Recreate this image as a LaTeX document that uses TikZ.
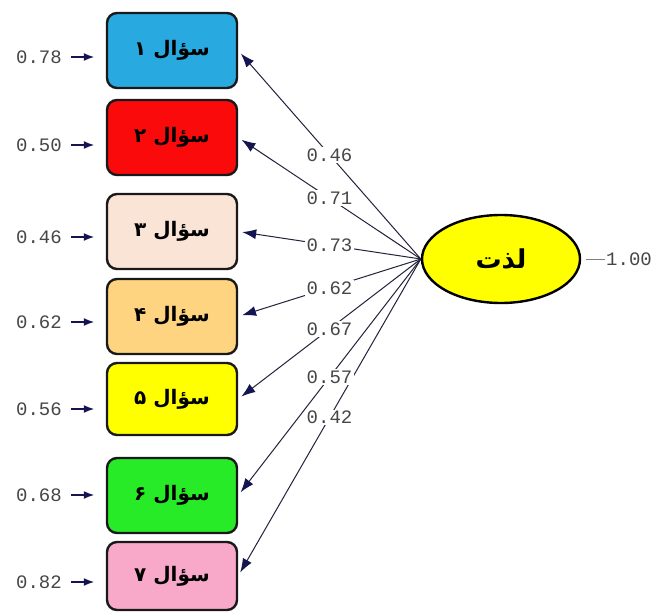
\documentclass[tikz,border=0pt]{standalone}
\usepackage{fontspec}
\usetikzlibrary{arrows.meta,shapes.geometric}
\TeXXeTstate=1
\newfontfamily\arabicfont[Script=Arabic]{DejaVu Sans}
\newfontfamily\numfont{Liberation Mono}
\definecolor{cA}{RGB}{40,170,225}
\definecolor{cB}{RGB}{250,10,10}
\definecolor{cC}{RGB}{250,228,214}
\definecolor{cD}{RGB}{255,212,128}
\definecolor{cE}{RGB}{255,255,0}
\definecolor{cF}{RGB}{40,235,40}
\definecolor{cG}{RGB}{248,168,200}
\definecolor{navy}{RGB}{20,20,80}
\definecolor{linec}{RGB}{35,35,60}
\definecolor{numc}{RGB}{70,70,70}
\tikzset{
  qbox/.style={draw=black!90, line width=2.4pt, rounded corners=10pt,
    minimum width=130pt, minimum height=75pt, inner sep=0pt,
    font=\arabicfont\bfseries\fontsize{20}{24}\selectfont},
  numlab/.style={font=\numfont\fontsize{19}{22}\selectfont, text=numc, inner sep=1pt},
  loadlab/.style={numlab, fill=white, inner sep=1.5pt},
  loadtip/.tip={Latex[length=14pt,width=10pt,fill=navy,color=navy]},
  errtip/.tip={Latex[length=11pt,width=8pt,fill=navy,color=navy]},
  load/.style={draw=linec, line width=1pt, shorten >=4pt, -loadtip},
  errarr/.style={draw=navy, line width=2.5pt, shorten <=8pt, shorten >=11pt, -errtip}
}
\begin{document}
\begin{tikzpicture}[x=1pt,y=-1pt]
\useasboundingbox[fill=white] (0,0) rectangle (660,612);
% observed variables
\node[qbox, fill=cA] (b1) at (172,50.5) {\beginR سؤال ۱\endR};
\node[qbox, fill=cB] (b2) at (172,137.5) {\beginR سؤال ۲\endR};
\node[qbox, fill=cC] (b3) at (172,231.5) {\beginR سؤال ۳\endR};
\node[qbox, fill=cD] (b4) at (172,316.5) {\beginR سؤال ۴\endR};
\node[qbox, fill=cE, minimum height=72pt] (b5) at (172,399) {\beginR سؤال ۵\endR};
\node[qbox, fill=cF] (b6) at (172,495.5) {\beginR سؤال ۶\endR};
\node[qbox, fill=cG, minimum height=68pt] (b7) at (172,576) {\beginR سؤال ۷\endR};
% latent variable
\node[ellipse, draw=black, line width=2.4pt, fill=cE, minimum width=158pt,
  minimum height=88pt, inner sep=0pt,
  font=\arabicfont\bfseries\fontsize{26}{30}\selectfont] (L) at (501,259) {\beginR لذت\endR};
\node[numlab, anchor=west] (v) at (605,259) {1.00};
\draw[draw=gray, line width=0.6pt] (L.east) ++(5,0) -- (v.west);
% error variances
\node[numlab] (e1) at (39,57) {0.78};
\node[numlab] (e2) at (39,145) {0.50};
\node[numlab] (e3) at (39,237) {0.46};
\node[numlab] (e4) at (39,322) {0.62};
\node[numlab] (e5) at (39,409) {0.56};
\node[numlab] (e6) at (39,495) {0.68};
\node[numlab] (e7) at (39,582) {0.82};
\foreach \i in {1,...,7}{
  \draw[errarr] (e\i.east) -- (e\i.east -| b\i.west);
}
% loadings
\foreach \i in {1,...,7}{
  \draw[load] (L.west) -- (b\i.east);
}
\path (L.west) -- node[loadlab]{0.46} (b1.east);
\path (L.west) -- node[loadlab]{0.71} (b2.east);
\path (L.west) -- node[loadlab]{0.73} (b3.east);
\path (L.west) -- node[loadlab]{0.62} (b4.east);
\path (L.west) -- node[loadlab]{0.67} (b5.east);
\path (L.west) -- node[loadlab]{0.57} (b6.east);
\path (L.west) -- node[loadlab]{0.42} (b7.east);
\end{tikzpicture}
\end{document}
